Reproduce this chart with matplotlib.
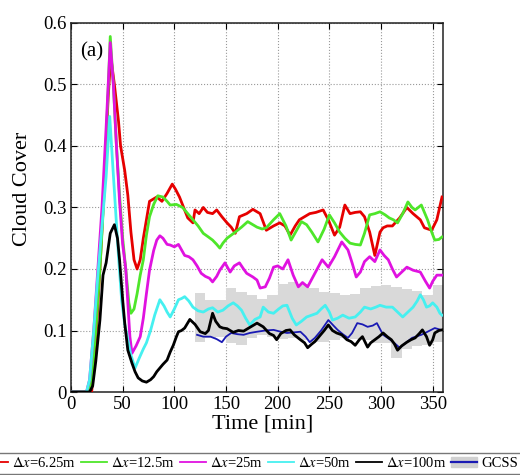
import numpy as np
import matplotlib
matplotlib.use("Agg")
import matplotlib.pyplot as plt
from matplotlib.patches import Patch
from matplotlib.lines import Line2D

plt.rcParams['font.family'] = ['Liberation Serif', 'DejaVu Serif']
plt.rcParams['mathtext.fontset'] = 'stix'

# --- данные ---
t_red = [0, 20, 24, 28, 32, 36, 38.5, 42, 46, 48, 52, 55, 58, 61, 64, 67, 70, 76, 83, 88, 93, 98, 101,
         105, 109, 113, 118, 120, 124, 128, 132, 137, 141, 146, 151, 155, 159, 163, 170, 176, 183, 189,
         196, 202, 207, 212, 217, 221, 226, 231, 237, 244, 249, 255, 260, 265, 270, 275, 280, 284, 289,
         294, 299, 302, 306, 311, 318, 325, 331, 338, 342, 349, 354, 359]
v_red = [0, 0, 0.08, 0.2, 0.33, 0.48, 0.545, 0.50, 0.44, 0.40, 0.36, 0.32, 0.26, 0.215, 0.20, 0.215, 0.25,
         0.31, 0.317, 0.31, 0.323, 0.338, 0.33, 0.317, 0.30, 0.283, 0.275, 0.296, 0.29, 0.30, 0.292, 0.29,
         0.296, 0.285, 0.275, 0.268, 0.258, 0.285, 0.29, 0.297, 0.29, 0.263, 0.27, 0.275, 0.27, 0.255,
         0.27, 0.28, 0.285, 0.29, 0.292, 0.296, 0.28, 0.255, 0.268, 0.304, 0.29, 0.292, 0.293, 0.285,
         0.26, 0.222, 0.26, 0.267, 0.27, 0.27, 0.283, 0.30, 0.29, 0.28, 0.267, 0.263, 0.28, 0.317]

t_green = [0, 17, 20, 24, 28, 32, 35, 38, 41, 44, 47, 50, 53, 56, 58, 61, 64, 67, 70, 73, 76, 80, 84, 89,
           93, 96, 102, 108, 113, 118, 123, 128, 133, 137, 141, 144, 147, 151, 155, 159, 165, 171, 176,
           180, 185, 189, 196, 202, 208, 213, 218, 223, 228, 233, 239, 245, 250, 255, 260, 265, 270, 275,
           280, 284, 289, 294, 299, 304, 308, 312, 316, 321, 326, 330, 333, 339, 345, 349, 352, 356, 359]
v_green = [0, 0, 0.02, 0.1, 0.2, 0.32, 0.45, 0.578, 0.50, 0.40, 0.32, 0.25, 0.20, 0.145, 0.128, 0.135,
           0.16, 0.19, 0.215, 0.255, 0.285, 0.305, 0.319, 0.317, 0.31, 0.304, 0.305, 0.30, 0.29, 0.28,
           0.27, 0.258, 0.252, 0.247, 0.24, 0.234, 0.242, 0.25, 0.255, 0.26, 0.268, 0.277, 0.272, 0.268,
           0.265, 0.267, 0.28, 0.29, 0.27, 0.247, 0.262, 0.277, 0.272, 0.26, 0.244, 0.265, 0.288, 0.275,
           0.26, 0.25, 0.242, 0.24, 0.239, 0.258, 0.288, 0.29, 0.293, 0.288, 0.283, 0.28, 0.275, 0.29,
           0.309, 0.30, 0.296, 0.304, 0.28, 0.26, 0.247, 0.248, 0.252]

t_mag = [0, 15, 18, 22, 26, 30, 34, 38, 41, 44, 47, 50, 53, 55, 57, 59, 63, 67, 70, 73, 76, 80, 83, 86,
         89, 93, 96, 100, 104, 110, 114, 118, 122, 126, 130, 134, 137, 141, 144, 149, 154, 158, 163, 167,
         170, 176, 180, 183, 188, 192, 196, 200, 205, 210, 215, 220, 224, 229, 236, 243, 249, 255, 262,
         268, 272, 276, 280, 284, 289, 294, 299, 303, 307, 311, 315, 320, 325, 331, 338, 343, 347, 350,
         354, 359]
v_mag = [0, 0, 0.02, 0.1, 0.2, 0.3, 0.43, 0.568, 0.50, 0.40, 0.31, 0.24, 0.20, 0.145, 0.09, 0.063, 0.075,
         0.09, 0.12, 0.16, 0.198, 0.23, 0.247, 0.254, 0.25, 0.24, 0.239, 0.236, 0.24, 0.222, 0.22, 0.215,
         0.205, 0.193, 0.188, 0.185, 0.179, 0.188, 0.198, 0.21, 0.195, 0.205, 0.21, 0.20, 0.193, 0.187,
         0.182, 0.169, 0.171, 0.185, 0.203, 0.205, 0.20, 0.215, 0.19, 0.171, 0.178, 0.171, 0.193, 0.215,
         0.203, 0.22, 0.244, 0.231, 0.21, 0.187, 0.195, 0.212, 0.22, 0.212, 0.231, 0.222, 0.215, 0.20,
         0.187, 0.195, 0.203, 0.198, 0.195, 0.18, 0.169, 0.18, 0.19, 0.19]

t_cyan = [0, 15, 18, 22, 26, 30, 34, 37.5, 40, 43, 46, 49, 52, 55, 58, 62, 66, 70, 73, 77, 81, 86, 90, 93,
          96, 100, 104, 107, 110, 114, 118, 123, 128, 133, 137, 142, 147, 152, 157, 161, 165, 169, 173,
          178, 183, 186, 191, 196, 201, 205, 209, 214, 218, 223, 228, 233, 238, 242, 246, 250, 253, 258,
          263, 269, 275, 280, 284, 290, 295, 299, 305, 311, 316, 321, 326, 331, 335, 338, 341, 344, 347,
          350, 354, 357, 359]
v_cyan = [0, 0, 0.02, 0.1, 0.19, 0.27, 0.35, 0.448, 0.38, 0.30, 0.22, 0.15, 0.11, 0.085, 0.06, 0.039,
          0.055, 0.07, 0.08, 0.1, 0.125, 0.15, 0.14, 0.13, 0.122, 0.135, 0.15, 0.152, 0.155, 0.148, 0.138,
          0.132, 0.13, 0.135, 0.137, 0.13, 0.133, 0.14, 0.145, 0.14, 0.133, 0.12, 0.109, 0.118, 0.122,
          0.138, 0.13, 0.128, 0.135, 0.14, 0.141, 0.12, 0.109, 0.115, 0.122, 0.125, 0.128, 0.135, 0.141,
          0.13, 0.117, 0.12, 0.125, 0.12, 0.122, 0.13, 0.138, 0.135, 0.138, 0.141, 0.138, 0.138, 0.13,
          0.122, 0.13, 0.138, 0.148, 0.158, 0.15, 0.138, 0.14, 0.145, 0.138, 0.128, 0.125]

t_black = [0, 18, 21, 24, 28, 31, 34, 38, 42, 45, 47, 50, 52, 55, 59, 62, 65, 69, 73, 77, 80, 83, 86, 89,
           93, 96, 99, 102, 104, 107, 110, 115, 120, 125, 130, 133, 137, 140, 144, 147, 151, 157, 162,
           167, 172, 176, 180, 186, 192, 196, 199, 203, 208, 212, 216, 222, 226, 229, 233, 236, 240, 245,
           249, 253, 257, 262, 267, 271, 275, 279, 282, 287, 290, 294, 298, 302, 306, 310, 313, 316, 320,
           325, 329, 333, 337, 340, 344, 347, 350, 352, 356, 359]
v_black = [0, 0, 0.01, 0.05, 0.117, 0.19, 0.21, 0.258, 0.272, 0.25, 0.215, 0.15, 0.112, 0.068, 0.047,
           0.033, 0.023, 0.018, 0.016, 0.02, 0.025, 0.033, 0.039, 0.045, 0.052, 0.065, 0.076, 0.09, 0.098,
           0.10, 0.104, 0.118, 0.11, 0.098, 0.095, 0.1, 0.128, 0.115, 0.106, 0.104, 0.103, 0.097, 0.1,
           0.099, 0.104, 0.108, 0.112, 0.106, 0.095, 0.092, 0.085, 0.095, 0.1, 0.101, 0.093, 0.085, 0.08,
           0.072, 0.078, 0.082, 0.09, 0.1, 0.109, 0.1, 0.096, 0.093, 0.085, 0.082, 0.076, 0.085, 0.09,
           0.073, 0.08, 0.085, 0.09, 0.096, 0.09, 0.085, 0.078, 0.068, 0.075, 0.081, 0.085, 0.088, 0.095,
           0.101, 0.09, 0.076, 0.085, 0.096, 0.1, 0.101]

t_gcss = [122, 128, 135, 141, 146, 150, 155, 161, 167, 173, 180, 188, 196, 203, 209, 216, 222, 227, 231,
          236, 242, 249, 254, 258, 263, 268, 272, 277, 282, 287, 292, 296, 302, 309, 314, 318, 324, 330,
          339, 345, 352, 358]
v_gcss = [0.093, 0.09, 0.09, 0.086, 0.081, 0.09, 0.096, 0.094, 0.093, 0.096, 0.098, 0.1, 0.101, 0.098,
          0.096, 0.097, 0.098, 0.09, 0.081, 0.088, 0.1, 0.117, 0.108, 0.101, 0.094, 0.088, 0.096, 0.112,
          0.11, 0.106, 0.108, 0.112, 0.093, 0.085, 0.078, 0.072, 0.08, 0.088, 0.093, 0.098, 0.104, 0.101]

# диапазон GCSS (ступенчато, по 10 мин)
t_band = [120, 130, 140, 150, 160, 170, 180, 190, 200, 210, 220, 230, 240, 250, 260, 270, 280, 290,
          300, 310, 320, 330, 340, 350, 360]
band_hi = [0.161, 0.150, 0.150, 0.169, 0.163, 0.158, 0.152, 0.158, 0.175, 0.179, 0.176, 0.169, 0.163,
           0.161, 0.158, 0.160, 0.169, 0.172, 0.174, 0.170, 0.168, 0.165, 0.158, 0.174]
band_lo = [0.081, 0.088, 0.090, 0.080, 0.076, 0.088, 0.092, 0.090, 0.086, 0.088, 0.085, 0.082, 0.081,
           0.085, 0.088, 0.086, 0.085, 0.080, 0.079, 0.055, 0.070, 0.074, 0.076, 0.081]

labels = [r'$\mathit{\Delta x}$=6.25m', r'$\mathit{\Delta x}$=12.5m', r'$\mathit{\Delta x}$=25m',
          r'$\mathit{\Delta x}$=50m', r'$\mathit{\Delta x}$=100m', 'GCSS']
colors = ['#e60000', '#4ee62a', '#e012e0', '#46f0f0', 'black']

fig = plt.figure(figsize=(5.2, 4.75), dpi=100)
ax = fig.add_axes([0.1365, 0.1747, 0.7155, 0.777])

ax.fill_between(t_band, band_hi + [band_hi[-1]], band_lo + [band_lo[-1]], step='post',
                color='#d9d9d9', lw=0, zorder=1)
ax.plot(t_gcss, v_gcss, color='#1a1ab4', lw=1.3, zorder=2)

series = [(t_red, v_red), (t_green, v_green), (t_mag, v_mag), (t_cyan, v_cyan), (t_black, v_black)]
for (t, v), c in zip(series, colors):
    ax.plot(t, v, color=c, lw=2.0, zorder=3)

ax.set_xlim(0, 360)
ax.set_ylim(0, 0.6)
ax.set_xticks(np.arange(0, 351, 50))
ax.set_yticks(np.arange(0, 0.61, 0.1))
ax.set_yticklabels(['0'] + [f'{v:.1f}' for v in np.arange(0.1, 0.61, 0.1)])
ax.tick_params(direction='in', top=True, right=True, labelsize=13.5, length=4, pad=3)
ax.grid(True, linestyle=':', color='#999999', lw=0.8)
ax.set_axisbelow(True)
for s in ax.spines.values():
    s.set_linewidth(1.1)
    s.set_color('#222222')

ax.set_xlabel('Time [min]', fontsize=16)
ax.xaxis.set_label_coords(0.516, -0.06)
ax.set_ylabel('Cloud Cover', fontsize=16)
ax.yaxis.set_label_coords(-0.105, 0.55)
ax.text(20, 0.553, '(a)', fontsize=15, ha='center', va='center')

handles = [Line2D([], [], color=c, lw=1.3) for c in colors]
handles.append((Patch(color='#d0d0d0'), Line2D([], [], color='#1a1ab4', lw=1.6)))
fig.legend(handles, labels, loc='upper left', bbox_to_anchor=(-0.042, 0.047), ncol=6,
           fontsize=10.5, handlelength=1.8, handletextpad=0.25, columnspacing=0.35,
           frameon=True, fancybox=False, edgecolor='#555555', borderpad=0.25,
           borderaxespad=0)

fig.savefig('out.png', dpi=100)
